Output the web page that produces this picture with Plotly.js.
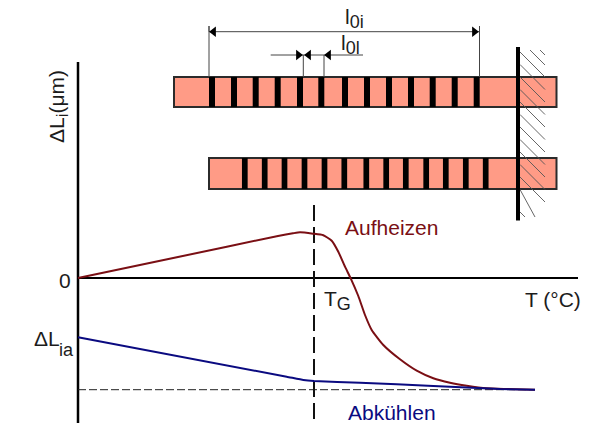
<!DOCTYPE html>
<html><head><meta charset="utf-8">
<script src="https://cdn.plot.ly/plotly-3.0.1.min.js"></script>
<style>html,body{margin:0;padding:0;background:#fff}#c{width:600px;height:430px}</style>
</head><body><div id="c"></div>
<script>
// Curves: T (origin at the axis crossing) and length change
const heatT = [0,100,200,215,222,235,245.3,253.7,260.3,267,272.7,280.3,287,293.7,305.3,322,338.7,355.3,372,388.7,408.7,428.7,457];
const heatL = [0,21,42,44.7,45.7,44.3,42.7,37.3,26.3,11.3,-0.3,-18,-37,-52,-67,-81.3,-92.7,-100.3,-104.7,-107.7,-110.3,-111,-111.7];
const coolT = [0,208.7,225.3,236,282,355.3,422,457];
const coolL = [-59.3,-98.7,-102,-103,-104.7,-108,-111,-111.7];
// Axes and guides
const axisXT = [0,500], axisXL = [0,0];
const axisYT = [0,0], axisYL = [216,-145];
const glassT = [236,236], glassL = [73,-142];
const baseT = [0,457], baseL = [-111.7,-111.7];
// Sample blocks
const blockCenter = [287.25,304.75], blockWidth = [382.5,347.5], blockBase = [171,89], blockHeight = [30,31];
const upperBarT = [134,156,177.7,199.7,222,243.3,267,289,311,333,354.7,376.7,398.7];
const lowerBarT = [166.8,186.7,206.5,226.5,246.5,266.3,288.3,308.2,327.8,348.2,367.8,387.8,407.7];
// Wall and hatching
const wallT = [440,440], wallL = [231,57.5];
const hatchT0 = [462,452,442,442,442,442,442,442,442,442,442,442,442,442,442];
const hatchL0 = [228,228,226,213.5,201,188.5,176,163.5,151,138.5,126,113.5,101,88.5,66];
const hatchT1 = [467,467,467,467,467,467,467,467,467,467,467,467,467,457,447];
const hatchL1 = [223,213,201,188.5,176,163.5,151,138.5,126,113.5,101,88.5,76,61,61];
// Dimension lines
const dimAT = [131,131,131,401.5,401.5,401.5], dimAL = [201,252,246.3,246.3,252,201];
const dimBT = [192.7,285], dimBL = [223,223];
const dimCT = [225.3,225.3], dimCL = [223,201];
const dimDT = [246,246], dimDL = [223,201];
const arrowsLeftT = [135.6,230.6,250.6], arrowsLeftL = [246.3,223,223];
const arrowsRightT = [396.4,220.4], arrowsRightL = [246.3,223];

const ink = '#1c1c1c', dim = '#444', maroon = '#7a0f14', navy = '#0a0a80', salmon = '#ff9b86';
const line = (x,y,color,width,dash) => ({type:'scatter',mode:'lines',x,y,hoverinfo:'skip',showlegend:false,
  line:{color,width,dash:dash||'solid'}});
const hatchX = hatchT0.flatMap((v,i)=>[v,hatchT1[i],null]);
const hatchY = hatchL0.flatMap((v,i)=>[v,hatchL1[i],null]);
const block = {type:'bar',x:blockCenter,y:blockHeight,base:blockBase,width:blockWidth,hoverinfo:'skip',showlegend:false,
  marker:{color:salmon,line:{color:'#2b2b2b',width:2}}};
const barTrace = (xs,b,h,w) => ({type:'bar',x:xs,y:xs.map(()=>h),base:xs.map(()=>b),width:xs.map(()=>w),hoverinfo:'skip',showlegend:false,
  marker:{color:'#000',line:{width:0}}});
const arrow = (x,y,symbol) => ({type:'scatter',mode:'markers',x,y,hoverinfo:'skip',showlegend:false,
  marker:{symbol,size:9,color:'#000',line:{width:0}}});
const traces = [
  block,
  barTrace(upperBarT,171,30,6),
  barTrace(lowerBarT,89,31,5.7),
  line(hatchX,hatchY,'#555',0.9),
  line(wallT,wallL,'#000',4),
  line(dimAT,dimAL,dim,1),
  line(dimBT,dimBL,dim,1),
  line(dimCT,dimCL,dim,1),
  line(dimDT,dimDL,dim,1),
  arrow(arrowsLeftT,arrowsLeftL,'triangle-left'),
  arrow(arrowsRightT,arrowsRightL,'triangle-right'),
  line(axisXT,axisXL,'#000',2),
  line(axisYT,axisYL,'#000',2.5),
  line(baseT,baseL,'#222',1,'8px,3px'),
  line(glassT,glassL,'#111',2,'16px,6px'),
  Object.assign(line(heatT,heatL,maroon,2),{line:{color:maroon,width:2,shape:'spline',smoothing:0.5}}),
  Object.assign(line(coolT,coolL,navy,2),{line:{color:navy,width:2,shape:'spline',smoothing:0.3}})
];
const note = (text,x,y,size,color,extra) => Object.assign({text,x,y,xref:'x',yref:'y',showarrow:false,xanchor:'left',yanchor:'middle',
  font:{family:'Liberation Sans, Arial, sans-serif',size,color}},extra||{});
const sub = s => '<sub><span style="font-size:18px">'+s+'</span></sub>';
const annotations = [
  note('l'+sub('0i'),265,260,21,ink),
  note('l'+sub('0l'),261,234,21,ink),
  note('Aufheizen',265,51,21,maroon),
  note('Abkühlen',268,-134,21,navy),
  note('T (°C)',445,-21,21,ink),
  note('T'+sub('G'),244,-22,21,ink),
  note('0',-21,-2,21,ink),
  note('ΔL',-46,-60,21,ink),
  note('ia',-21,-72,18,ink),
  note('ΔL'+'<sub><span style="font-size:17px">i</span></sub>'+'(μm)',-20,171,21,ink,{textangle:-90,xanchor:'center',yanchor:'middle'})
];
Plotly.newPlot('c',traces,{
  width:600,height:430,margin:{l:0,r:0,t:0,b:0},paper_bgcolor:'#fff',plot_bgcolor:'#fff',
  barmode:'overlay',showlegend:false,
  xaxis:{range:[-78,522],visible:false,fixedrange:true},
  yaxis:{range:[-152,278],visible:false,fixedrange:true},
  annotations
},{staticPlot:true,displayModeBar:false});
</script></body></html>
